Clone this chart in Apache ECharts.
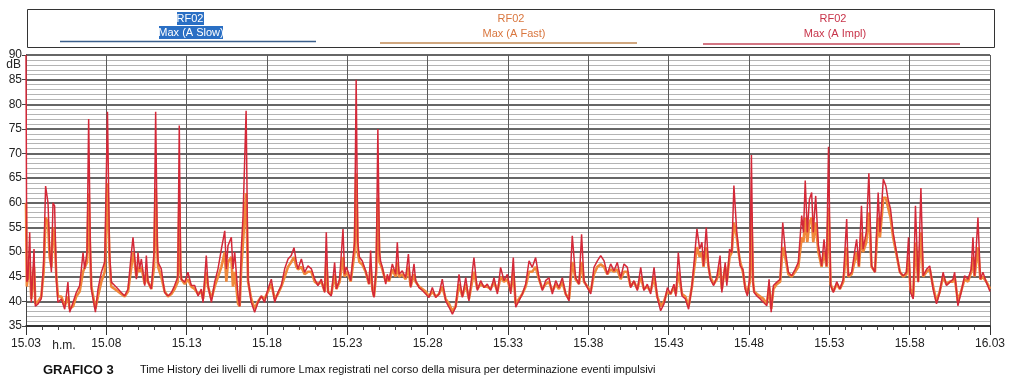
<!DOCTYPE html>
<html>
<head>
<meta charset="utf-8">
<script src="https://cdn.jsdelivr.net/npm/echarts@6/dist/echarts.min.js"></script>
<style>
  html, body { margin: 0; padding: 0; background: #fff; }
  #chart { width: 1010px; height: 386px; }
</style>
</head>
<body>
<div id="chart"></div>
<script>
// tempo in minuti dalle 15.03
var minutes = [
  0, 0.05, 0.12, 0.23, 0.33, 0.5, 0.58, 0.75, 0.95, 1.1, 1.22, 1.37, 1.47, 1.58, 1.68, 1.78, 1.89, 1.99,
  2.2, 2.41, 2.61, 2.72, 2.93, 3.13, 3.34, 3.55, 3.65, 3.8, 3.9, 4.0, 4.07, 4.32, 4.48, 4.69, 4.9,
  5.07, 5.2, 5.31, 5.52, 5.73, 5.93, 6.14, 6.35, 6.56, 6.66, 6.76, 6.87, 6.97, 7.07, 7.18, 7.39, 7.49,
  7.59, 7.8, 7.97, 8.07, 8.17, 8.22, 8.42, 8.63, 8.84, 9.05, 9.25, 9.45, 9.54, 9.62, 9.67, 9.88,
  10.08, 10.29, 10.5, 10.71, 10.91, 11.02, 11.22, 11.33, 11.54, 11.74, 11.95, 12.16, 12.37, 12.47,
  12.57, 12.78, 12.88, 12.99, 13.2, 13.3, 13.4, 13.51, 13.7, 13.82, 14.02, 14.23, 14.44, 14.65, 14.85,
  15.06, 15.27, 15.48, 15.68, 15.89, 16.1, 16.31, 16.51, 16.68, 16.83, 16.93, 17.14, 17.34, 17.55,
  17.76, 17.97, 18.17, 18.38, 18.59, 18.69, 18.8, 19.0, 19.21, 19.32, 19.52, 19.73, 19.83, 19.94,
  20.1, 20.21, 20.31, 20.45, 20.55, 20.65, 20.75, 20.93, 21.14, 21.35, 21.45, 21.56, 21.66, 21.8,
  21.9, 22.0, 22.07, 22.18, 22.39, 22.49, 22.59, 22.8, 23.01, 23.11, 23.22, 23.42, 23.63, 23.8, 23.94,
  24.15, 24.25, 24.46, 24.67, 24.88, 25.08, 25.29, 25.5, 25.71, 25.91, 26.12, 26.33, 26.54, 26.74,
  26.95, 27.16, 27.37, 27.57, 27.88, 28.09, 28.3, 28.51, 28.71, 28.92, 29.13, 29.34, 29.54, 29.75,
  29.96, 30.17, 30.33, 30.48, 30.68, 30.89, 31.1, 31.31, 31.51, 31.72, 31.93, 32.14, 32.34, 32.55,
  32.76, 32.97, 33.17, 33.38, 33.59, 33.8, 34.0, 34.21, 34.42, 34.58, 34.73, 34.94, 35.15, 35.35,
  35.56, 35.77, 35.98, 36.18, 36.39, 36.6, 36.8, 37.01, 37.22, 37.43, 37.63, 37.84, 38.05, 38.26,
  38.46, 38.67, 38.88, 39.09, 39.29, 39.5, 39.71, 39.92, 40.12, 40.33, 40.45, 40.6, 40.83, 41.04,
  41.24, 41.45, 41.6, 41.76, 41.93, 42.07, 42.17, 42.34, 42.48, 42.59, 42.8, 43.0, 43.2, 43.31, 43.52,
  43.62, 43.79, 43.93, 44.06, 44.24, 44.35, 44.45, 44.62, 44.76, 44.9, 45.05, 45.15, 45.25, 45.32,
  45.49, 45.7, 45.9, 46.11, 46.25, 46.38, 46.52, 46.73, 46.94, 47.1, 47.25, 47.45, 47.66, 47.87,
  48.07, 48.28, 48.39, 48.5, 48.63, 48.76, 48.9, 49.0, 49.15, 49.32, 49.52, 49.67, 49.83, 49.95,
  50.08, 50.25, 50.46, 50.66, 50.87, 51.08, 51.18, 51.39, 51.6, 51.7, 51.84, 52.0, 52.1, 52.3, 52.46,
  52.63, 52.84, 53.04, 53.15, 53.36, 53.52, 53.66, 53.81, 53.97, 54.18, 54.39, 54.6, 54.8, 54.93,
  55.05, 55.22, 55.36, 55.53, 55.7, 55.84, 56.05, 56.25, 56.46, 56.67, 56.87, 57.08, 57.29, 57.5,
  57.7, 57.8, 58.0, 58.2, 58.42, 58.63, 58.83, 58.94, 59.04, 59.25, 59.4, 59.56, 59.77, 59.94, 60
];
// RF02 Max (A Impl)
var maxImpl = [
  90, 44, 44.5, 54, 39.8, 50.6, 39, 39.5, 40.5, 48, 63.4, 60, 50.6, 45.9, 60, 59.4, 44.5, 39.8,
  40.5, 38.4, 43.9, 37.8, 39.8, 41.8, 43.2, 49.9, 46.6, 50, 77, 52, 42.5, 37.8, 42.5, 45.9, 48,
  78.5, 50, 43.9, 43.2, 42.5, 41.8, 41.1, 42.5, 49.9, 53, 49.3, 44.5, 49.9, 46.6, 48.6, 43.2, 49.3,
  44, 42.5, 50, 78.5, 52, 47.9, 46.6, 41.8, 41.1, 41.8, 43.2, 45, 75.7, 47, 44.5, 43.9,
  45.9, 43.2, 43.2, 41.1, 42.5, 39.8, 49.3, 43.2, 39.8, 43.9, 46.6, 50.6, 54.3, 46.6,
  51.3, 53, 46.6, 50, 41, 39, 50.6, 57.4, 78.7, 44.5, 39.8, 37.8, 39.8, 41.1, 39.8,
  42.5, 44.5, 39.8, 41.8, 43.2, 46.6, 48.6, 49.3, 50.9, 47.9, 46.6, 48.6, 45.9, 47.2,
  46.6, 44.5, 43.2, 44.5, 41.8, 54, 41.8, 41.1, 47.9, 42.5, 44.5, 54.7, 45.5, 47,
  45.5, 44.2, 47.6, 52, 85, 52, 49, 48.2, 46.2, 43.5, 50.3, 42.2, 40.8, 47,
  75, 50, 48.2, 46.9, 43.5, 45.5, 44.2, 47.6, 45.5, 52, 45.5, 46.2, 44.8, 49.6, 42.8,
  47.6, 44.2, 42.8, 42.2, 41.5, 40.8, 42.8, 40.8, 41.5, 44.5, 40.1, 38.8, 37.4, 38.8,
  45.5, 40.8, 44.8, 40.1, 48.9, 42.2, 44.2, 42.8, 43.5, 42.2, 44.8, 41.5, 46.9, 44.2,
  45.5, 41.5, 48.9, 38.8, 40.1, 41.5, 43.5, 48.2, 46.9, 48.9, 44.8, 42.2, 44.2, 44.8,
  41.5, 44.2, 42.8, 44.8, 41.5, 40.1, 53.3, 44.8, 43.5, 53.6, 44.2, 42.8, 41.5, 46.9,
  48.2, 49.3, 48.2, 45.5, 47.6, 46.2, 47.9, 44.8, 47.6, 46.9, 42.8, 44.2, 42.2, 46.9,
  42.2, 43.5, 41.5, 46.9, 40.8, 38.1, 39.5, 42.8, 41.5, 43.5, 41, 49.9, 41.1, 40.5,
  38.4, 43.2, 48.6, 54.7, 50.6, 52, 47.2, 55, 47.2, 44.5, 43.2, 45, 49.3, 41.8, 47.9,
  43.2, 50.6, 49.9, 63.5, 54, 50.6, 47.2, 46.5, 42.5, 41.1, 45, 69.7, 44, 41.8,
  41.1, 40.5, 39.8, 39.1, 44.5, 37.8, 43.2, 43.9, 44.5, 56, 50.6, 45.9, 45.2, 46.5,
  47.9, 57.4, 54, 64.5, 54, 60.7, 62.1, 54, 61.4, 51.3, 47.2, 52.6, 47.2, 71.4,
  43.2, 41.8, 44, 42.5, 44.5, 56.7, 45.2, 45.9, 50.6, 52.6, 47.2, 59.4, 50.6, 54, 66,
  47.2, 45.9, 62.1, 54, 64.8, 63.4, 60.7, 58.7, 54, 49.9, 45.9, 45.2, 45.9, 53,
  41.8, 40.5, 59.4, 43.9, 63, 45.2, 46.5, 47.2, 42.5, 39.5, 41.8, 45.9, 43.2, 43.9,
  44.5, 45.9, 39.1, 41.8, 45.2, 44.5, 46.5, 53, 45.2, 57, 44.5, 45.9, 43.9, 42.5, 42
];
// RF02 Max (A Fast)
var maxFast = [
  60, 43, 43, 48, 40.5, 47, 39.5, 40, 41, 46, 57, 56, 49, 47, 55, 53, 45, 41,
  41, 39, 41, 38.5, 39, 41, 42, 46, 46, 48, 62, 49, 43, 38.5, 41, 44, 46,
  64, 48, 43, 42.5, 42, 41.5, 41, 42, 47, 50, 48, 45, 47, 46, 47, 43.5, 46,
  44, 42.5, 47, 63, 50, 47, 45, 42, 41, 41.5, 42.5, 44, 60, 46, 44.5, 43.5,
  44.5, 43, 42.5, 41.5, 42, 40.5, 46, 43, 40.5, 43, 45, 47, 50, 44,
  48, 49, 43, 46, 39.5, 39, 47, 52, 62, 44, 40.5, 38.5, 40, 41, 40.5,
  42, 43.5, 40.5, 41.5, 43, 45, 47, 48, 49, 47, 46.5, 47, 45.5, 46,
  46, 44, 43.5, 44, 42, 48, 42, 41.5, 45.5, 42.5, 44, 49, 45, 46,
  45, 44, 46.5, 50, 66, 50, 48, 47.5, 46, 43.5, 47, 42.5, 41, 46,
  61, 48, 47.5, 46.5, 44, 45, 44, 46.5, 45, 48, 45, 45.5, 44.5, 47, 43,
  45.5, 44, 43, 42.5, 42, 41, 42, 41, 41.5, 43, 40.5, 39.5, 38, 39,
  43.5, 41, 43.5, 40.5, 46, 42.5, 43.5, 43, 43, 42.5, 44, 42, 45, 44,
  44.5, 42, 46, 39.5, 40.5, 41.5, 43, 46, 46, 47, 44.5, 42.5, 43.5, 44,
  42, 43.5, 42.5, 44, 41.5, 40.5, 48, 44.5, 43.5, 48, 44, 43, 42, 45.5,
  47, 47.5, 47, 45.5, 46.5, 46, 46.5, 44.5, 46, 46, 43, 44, 42.5, 45,
  42.5, 43, 42, 45, 41, 39, 40, 42, 41.5, 43, 41.5, 46, 41.5, 41,
  39, 43, 47, 51, 49, 50, 47, 51, 47, 45, 43.5, 44.5, 47, 42.5, 47,
  44, 49, 50, 56, 53, 50, 48, 46, 43, 41.5, 44, 58, 44, 42,
  41.5, 41, 40.5, 39.5, 43, 38.5, 42.5, 43.5, 44, 51, 49, 45.5, 45, 46,
  47, 53, 52, 57, 52, 56, 57, 52, 56, 50, 47, 50, 47, 59,
  43.5, 42, 43.5, 42.5, 44, 51, 45, 45.5, 48.5, 50, 47, 54, 50, 52, 58,
  47, 46, 57, 53, 61, 61, 59, 57, 53, 49.5, 46, 45, 45.5, 49,
  42.5, 41, 52, 44, 54, 45, 46, 46.5, 43, 40, 42, 45, 43.5, 44,
  44, 45, 40, 42, 44.5, 44, 46, 49, 45, 51, 44.5, 45, 44, 43, 42.5
];
// etichette asse x (ore.minuti)
var xTickLabels = ['15.03', '15.08', '15.13', '15.18', '15.23', '15.28', '15.33',
  '15.38', '15.43', '15.48', '15.53', '15.58', '16.03'];
var seriesNames = ['RF02 Max (A Slow)', 'RF02 Max (A Fast)', 'RF02 Max (A Impl)'];

var fontNarrow = '"Liberation Sans Narrow", "Liberation Sans", Arial, sans-serif';

function pairs(xs, ys) {
  var out = [];
  for (var i = 0; i < xs.length; i++) {
    out.push([xs[i], ys[i]]);
  }
  return out;
}

var myChart = echarts.init(document.getElementById('chart'));

var option = {
  backgroundColor: '#ffffff',
  animation: false,
  grid: { left: 26, right: 20, top: 55, bottom: 60 },
  xAxis: {
    type: 'value',
    min: 0,
    max: 60,
    interval: 5,
    axisLine: { show: true, onZero: false, lineStyle: { color: '#222', width: 1.5 } },
    axisTick: { show: true, length: 9, lineStyle: { color: '#333' } },
    minorTick: { show: true, splitNumber: 5, length: 4, lineStyle: { color: '#444' } },
    splitLine: { show: true, lineStyle: { color: '#5a5a5a', width: 1 } },
    axisLabel: {
      color: '#222',
      fontSize: 12,
      fontFamily: fontNarrow,
      margin: 12,
      formatter: function (v) { return xTickLabels[Math.round(v / 5)]; }
    }
  },
  yAxis: {
    type: 'value',
    min: 35,
    max: 90,
    interval: 5,
    axisLine: { show: true, lineStyle: { color: '#444', width: 1 } },
    axisTick: { show: true, length: 4, lineStyle: { color: '#444' } },
    minorTick: { show: false, splitNumber: 5 },
    splitLine: { show: true, lineStyle: { color: '#333', width: 1.6 } },
    minorSplitLine: { show: true, lineStyle: { color: '#b4b4b4', width: 1 } },
    axisLabel: { color: '#222', fontSize: 12, fontFamily: fontNarrow, margin: 4 }
  },
  series: [
    {
      name: seriesNames[0],
      type: 'line',
      data: [],
      showSymbol: false,
      lineStyle: { color: '#2f6fb8', width: 1 }
    },
    {
      name: seriesNames[1],
      type: 'line',
      data: pairs(minutes, maxFast),
      showSymbol: false,
      lineStyle: { color: '#f0883a', width: 2.6 },
      z: 3
    },
    {
      name: seriesNames[2],
      type: 'line',
      data: pairs(minutes, maxImpl),
      showSymbol: false,
      lineStyle: { color: '#d42838', width: 1.5 },
      z: 4
    }
  ],
  graphic: [
    // riquadro legenda
    { type: 'rect', shape: { x: 27.5, y: 9.5, width: 967, height: 38 },
      style: { fill: 'none', stroke: '#333', lineWidth: 1 } },
    // A Slow
    { type: 'rect', shape: { x: 177, y: 12, width: 27, height: 13 }, style: { fill: '#2a6fc4' } },
    { type: 'rect', shape: { x: 159, y: 26, width: 64, height: 13 }, style: { fill: '#2a6fc4' } },
    { type: 'text', x: 190, y: 18.5, style: { text: 'RF02', fill: '#fff', font: '11px ' + fontNarrow, align: 'center', verticalAlign: 'middle' } },
    { type: 'text', x: 191, y: 32.5, style: { text: 'Max (A Slow)', fill: '#fff', font: '11px ' + fontNarrow, align: 'center', verticalAlign: 'middle' } },
    { type: 'line', shape: { x1: 60, y1: 41.5, x2: 316, y2: 41.5 }, style: { stroke: '#3b5f8c', lineWidth: 1.5 } },
    // A Fast
    { type: 'text', x: 511, y: 18.5, style: { text: 'RF02', fill: '#d9763e', font: '11px ' + fontNarrow, align: 'center', verticalAlign: 'middle' } },
    { type: 'text', x: 514, y: 33.5, style: { text: 'Max (A Fast)', fill: '#d9763e', font: '11px ' + fontNarrow, align: 'center', verticalAlign: 'middle' } },
    { type: 'line', shape: { x1: 380, y1: 43, x2: 637, y2: 43 }, style: { stroke: '#c08a55', lineWidth: 1.3 } },
    // A Impl
    { type: 'text', x: 833, y: 18.5, style: { text: 'RF02', fill: '#c8344a', font: '11px ' + fontNarrow, align: 'center', verticalAlign: 'middle' } },
    { type: 'text', x: 835, y: 33.5, style: { text: 'Max (A Impl)', fill: '#c8344a', font: '11px ' + fontNarrow, align: 'center', verticalAlign: 'middle' } },
    { type: 'line', shape: { x1: 703, y1: 44, x2: 960, y2: 44 }, style: { stroke: '#c4485a', lineWidth: 1.3 } },
    // unita' asse y e asse x
    { type: 'text', x: 21, y: 65, style: { text: 'dB', fill: '#222', font: '12px ' + fontNarrow, align: 'right', verticalAlign: 'middle' } },
    { type: 'text', x: 64, y: 346, style: { text: 'h.m.', fill: '#222', font: '12px ' + fontNarrow, align: 'center', verticalAlign: 'middle' } },
    // didascalia
    { type: 'text', x: 43, y: 370, style: { text: 'GRAFICO 3', fill: '#111', font: 'bold 13px ' + fontNarrow, align: 'left', verticalAlign: 'middle' } },
    { type: 'text', x: 140, y: 370, style: { text: 'Time History dei livelli di rumore Lmax registrati nel corso della misura per determinazione eventi impulsivi', fill: '#111', font: '11px ' + fontNarrow, align: 'left', verticalAlign: 'middle' } }
  ]
};

myChart.setOption(option);
</script>
</body>
</html>
